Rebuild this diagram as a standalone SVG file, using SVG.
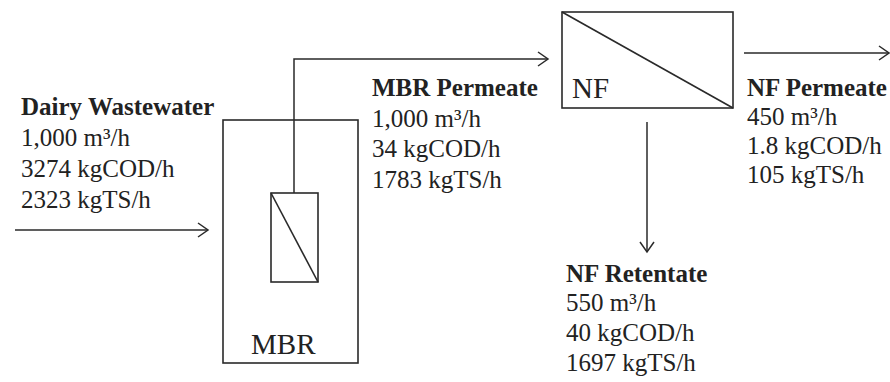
<svg xmlns="http://www.w3.org/2000/svg" width="890" height="382" viewBox="0 0 890 382">
<style>
.box{fill:none;stroke:#2a2a2a;stroke-width:1.6}
.ln{fill:none;stroke:#2a2a2a;stroke-width:1.5}
.t{font-family:"Liberation Serif","Times New Roman",serif;font-size:25px;fill:#222}
.b{font-weight:bold}
.lab{font-family:"Liberation Serif","Times New Roman",serif;font-size:29px;fill:#222}
</style>
<defs>
<marker id="arr" markerUnits="userSpaceOnUse" markerWidth="20" markerHeight="20" viewBox="-12 -10 14 20" refX="0" refY="0" orient="auto">
<path d="M-10,-7 L0,0 L-10,7" fill="none" stroke="#2a2a2a" stroke-width="1.5"/>
</marker>
</defs>
<rect width="890" height="382" fill="#fff"/>
<g id="connectors">
<line class="ln" x1="15" y1="230" x2="208" y2="230" marker-end="url(#arr)"/>
<polyline class="ln" points="294,193 294,59 548,59" marker-end="url(#arr)"/>
<line class="ln" x1="744" y1="53" x2="889" y2="53" marker-end="url(#arr)"/>
<line class="ln" x1="647" y1="122" x2="647" y2="252" marker-end="url(#arr)"/>
</g>
<g id="mbr">
<rect class="box" x="223" y="120" width="135" height="243"/>
<rect class="box" x="271" y="193" width="47" height="89"/>
<line class="box" x1="271" y1="193" x2="318" y2="282"/>
<text class="lab" x="251" y="354">MBR</text>
</g>
<g id="nf">
<rect class="box" x="562" y="12" width="171" height="96"/>
<line class="box" x1="562" y1="12" x2="733" y2="108"/>
<text class="lab" x="572" y="98">NF</text>
</g>
<g id="feed-label">
<text class="t b" x="21" y="115">Dairy Wastewater</text>
<text class="t" x="21" y="146">1,000 m³/h</text>
<text class="t" x="21" y="177">3274 kgCOD/h</text>
<text class="t" x="21" y="208">2323 kgTS/h</text>
</g>
<g id="mbr-permeate-label">
<text class="t b" x="372" y="96">MBR Permeate</text>
<text class="t" x="372" y="127">1,000 m³/h</text>
<text class="t" x="372" y="157">34 kgCOD/h</text>
<text class="t" x="372" y="188">1783 kgTS/h</text>
</g>
<g id="nf-permeate-label">
<text class="t b" x="747" y="96">NF Permeate</text>
<text class="t" x="747" y="125">450 m³/h</text>
<text class="t" x="747" y="154">1.8 kgCOD/h</text>
<text class="t" x="747" y="183">105 kgTS/h</text>
</g>
<g id="nf-retentate-label">
<text class="t b" x="566" y="282">NF Retentate</text>
<text class="t" x="566" y="311">550 m³/h</text>
<text class="t" x="566" y="341">40 kgCOD/h</text>
<text class="t" x="566" y="371">1697 kgTS/h</text>
</g>
</svg>
